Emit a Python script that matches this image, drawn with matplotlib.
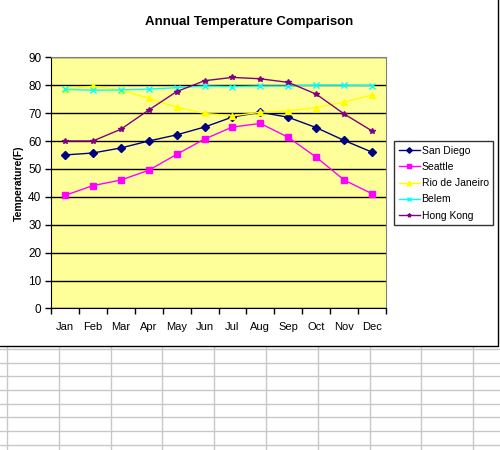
import matplotlib
matplotlib.use('Agg')
import matplotlib.pyplot as plt
from matplotlib.patches import Rectangle
from matplotlib.lines import Line2D
import numpy as np

plt.rcParams['font.family'] = ['Liberation Sans', 'DejaVu Sans']

months = ['Jan', 'Feb', 'Mar', 'Apr', 'May', 'Jun',
          'Jul', 'Aug', 'Sep', 'Oct', 'Nov', 'Dec']

# monthly average temperatures (F)
san_diego = [55, 55.7, 57.5, 60, 62.2, 65, 68.6, 70.3, 68.5, 64.8, 60.2, 56]
seattle = [40.5, 44, 46, 49.5, 55.2, 60.7, 65, 66.3, 61.3, 54.2, 46, 41.1]
rio = [78.6, 79.6, 78.3, 75.3, 72.1, 69.9, 69, 70.3, 70.8, 72, 73.9, 76.5]
belem = [78.5, 78.2, 78.3, 78.6, 79.1, 79.7, 79.5, 79.7, 79.7, 80, 80, 79.8]
hong_kong = [60, 60, 64.2, 71.1, 77.7, 81.6, 82.8, 82.3, 81, 76.8, 69.7, 63.6]

series_names = ['San Diego', 'Seattle', 'Rio de Janeiro', 'Belem', 'Hong Kong']
series_values = [san_diego, seattle, rio, belem, hong_kong]
series_colors = ['#000080', '#FF00FF', '#FFFF00', '#00FFFF', '#800080']
series_markers = ['D', 's', '^', 'x', '*']
marker_sizes = [4, 5, 5, 4, 4]

fig = plt.figure(figsize=(5, 4.5), dpi=100)
W, H = 500.0, 450.0

# spreadsheet grid behind the chart object
for gx in np.arange(7, 500, 51.8):
    fig.add_artist(Line2D([gx / W, gx / W], [0, 1], color='#c8c8c8', lw=1,
                          transform=fig.transFigure, zorder=0))
for gy in np.arange(349, 450, 13.7):
    fig.add_artist(Line2D([0, 1], [1 - gy / H, 1 - gy / H], color='#c8c8c8', lw=1,
                          transform=fig.transFigure, zorder=0))

# white chart object with a dark border
fig.add_artist(Rectangle((-0.01, 1 - 346 / H), 498 / W + 0.01, 346 / H + 0.01,
                         transform=fig.transFigure, facecolor='white',
                         edgecolor='black', lw=1, zorder=1))

ax = fig.add_axes([51 / W, 1 - 308.4 / H, 335 / W, 251.1 / H], zorder=2)
ax.set_facecolor('#FFFF99')

x = np.arange(len(months))
for name, vals, col, mk, ms in zip(series_names, series_values, series_colors,
                                   series_markers, marker_sizes):
    ax.plot(x, vals, color=col, marker=mk, markersize=ms, lw=1,
            markeredgewidth=1, label=name, zorder=3)

ax.set_xlim(-0.5, len(months) - 0.5)
ax.set_ylim(0, 90)
ax.set_yticks(np.arange(0, 91, 10))
ax.yaxis.grid(True, color='black', lw=1)
ax.set_axisbelow(True)

ax.set_xticks(np.arange(-0.5, len(months), 1))
ax.set_xticklabels([])
ax.set_xticks(x, minor=True)
ax.set_xticklabels(months, minor=True)
ax.tick_params(axis='x', which='minor', length=0, pad=10, labelsize=8)
ax.tick_params(axis='x', which='major', length=4, width=1, color='black')
ax.tick_params(axis='y', length=4, width=1, labelsize=8.5, pad=3)

for side in ['top', 'right']:
    ax.spines[side].set_color('#808080')
for side in ['left', 'bottom']:
    ax.spines[side].set_color('black')

ax.set_ylabel('Temperature(F)', fontsize=7.5, fontweight='bold', labelpad=3)

fig.text(249 / W, 1 - 21.5 / H, 'Annual Temperature Comparison',
         ha='center', va='center', fontsize=9.5, fontweight='bold', zorder=3)

leg = ax.legend(loc='upper left', bbox_to_anchor=(394 / W, 1 - 141 / H),
                bbox_transform=fig.transFigure, fontsize=7.5, frameon=True,
                fancybox=False, edgecolor='black', handlelength=2.0,
                handletextpad=0.2, borderpad=0.45, borderaxespad=0,
                labelspacing=0.6, markerscale=0.7)
leg.get_frame().set_linewidth(1)

fig.savefig('out.png', dpi=100, facecolor='white')
